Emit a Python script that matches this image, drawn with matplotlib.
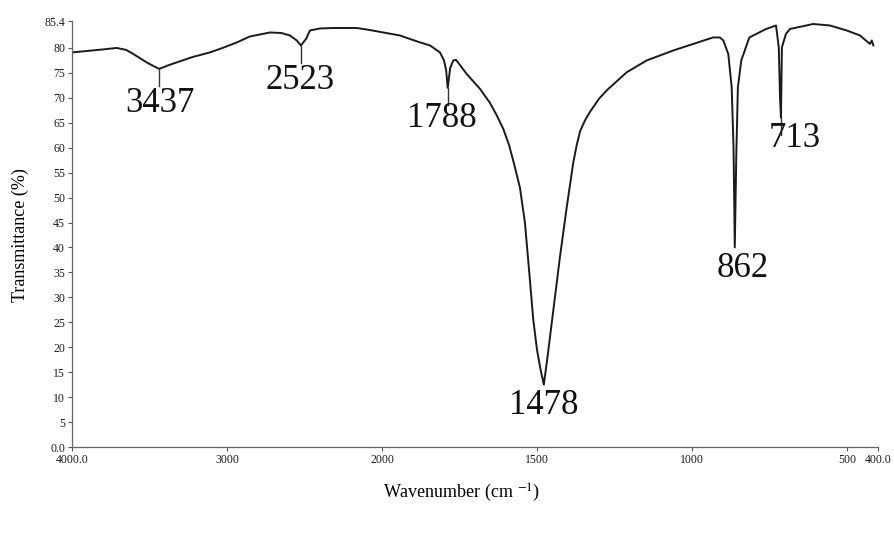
import numpy as np
import matplotlib
matplotlib.use("Agg")
import matplotlib.pyplot as plt

plt.rcParams['font.family'] = ['Liberation Serif', 'DejaVu Serif']
plt.rcParams['mathtext.fontset'] = 'stix'

wavenumber = [4000, 3900, 3800, 3712, 3650, 3605, 3518, 3470, 3437, 3380, 3325, 3220,
              3110, 3020, 2937, 2852, 2787, 2723, 2650, 2594, 2550, 2523, 2490, 2465,
              2400, 2314, 2163, 2080, 1996, 1942, 1910, 1877, 1845, 1813, 1800, 1793,
              1788, 1780, 1770, 1761, 1727, 1684, 1652, 1630, 1609, 1590, 1575, 1555,
              1539, 1525, 1512, 1500, 1490, 1478, 1466, 1458, 1442, 1426, 1404, 1383,
              1372, 1361, 1345, 1329, 1300, 1275, 1211, 1146, 1060, 996, 932, 910, 899,
              883, 872, 866, 862, 857, 852, 841, 815, 761, 729, 720, 716, 713, 710, 697,
              684, 609, 555, 501, 458, 426, 420, 415]
transmittance = [79.1, 79.4, 79.7, 80.0, 79.6, 78.8, 77.1, 76.3, 75.8, 76.5, 77.1, 78.2,
                 79.1, 80.1, 81.1, 82.3, 82.7, 83.1, 83.0, 82.5, 81.5, 80.5, 81.8, 83.5,
                 83.9, 84.0, 84.0, 83.6, 83.1, 82.5, 81.8, 81.1, 80.5, 79.1, 77.5, 75.5,
                 72.0, 76.0, 77.5, 77.6, 74.8, 71.8, 69.0, 66.5, 63.8, 60.5, 57.0, 52.0,
                 45.0, 35.0, 25.5, 19.5, 16.0, 12.5, 18.1, 22.1, 30.1, 38.1, 48.1, 57.0,
                 60.5, 63.3, 65.5, 67.2, 69.8, 71.5, 75.1, 77.5, 79.5, 80.8, 82.1, 82.1,
                 81.5, 78.8, 72.1, 60.0, 40.0, 58.8, 72.1, 77.5, 82.1, 83.8, 84.5, 80.1,
                 70.0, 66.0, 80.1, 82.8, 83.8, 84.8, 84.5, 83.5, 82.5, 80.8, 81.5, 80.5]

peak_labels = ["3437", "2523", "1788", "1478", "862", "713"]
peak_wn = [3437, 2523, 1788, 1478, 862, 713]
peak_T = [75.8, 80.5, 72.0, 12.5, 40.0, 66.0]
label_x = [3432, 2529, 1808, 1477, 837, 668]
label_y = [68.9, 73.5, 65.9, 8.4, 35.8, 61.9]

xticks = [4000, 3000, 2000, 1500, 1000, 500, 400]
xticklabels = ["4000.0", "3000", "2000", "1500", "1000", "500", "400.0"]
yticks = [0, 5, 10, 15, 20, 25, 30, 35, 40, 45, 50, 55, 60, 65, 70, 75, 80, 85.4]
yticklabels = ["0.0", "5", "10", "15", "20", "25", "30", "35", "40", "45", "50", "55",
               "60", "65", "70", "75", "80", "85.4"]


def fwd(x):
    x = np.asarray(x, dtype=float)
    return np.where(x > 2000, 2000 + (x - 2000) / 2.0, x)


def inv(t):
    t = np.asarray(t, dtype=float)
    return np.where(t > 2000, 2000 + (t - 2000) * 2.0, t)


fig = plt.figure(figsize=(8.94, 5.34), dpi=100)
ax = fig.add_axes([72 / 894, 87 / 534, (878 - 72) / 894, (447 - 21) / 534])
ax.set_xscale('function', functions=(fwd, inv))
ax.plot(wavenumber, transmittance, color='#1a1a1a', lw=1.4)

for w, t in zip(peak_wn, peak_T):
    if w not in (1478, 862):
        ax.plot([w, w], [t, t - 3.5], color='#333333', lw=1.0)

for lab, lx, ly in zip(peak_labels, label_x, label_y):
    ax.text(lx, ly, lab, fontsize=25, ha='center', va='center', color='#111111')

ax.set_xlim(4000, 400)
ax.set_ylim(0, 85.4)
ax.set_xticks(xticks)
ax.set_xticklabels(xticklabels)
ax.set_yticks(yticks)
ax.set_yticklabels(yticklabels)
ax.minorticks_off()
ax.tick_params(axis='both', labelsize=8.5, length=3, width=0.8, colors='#555555',
               labelcolor='#1a1a1a', direction='out', pad=2)
for s in ['top', 'right']:
    ax.spines[s].set_visible(False)
for s in ['left', 'bottom']:
    ax.spines[s].set_color('#666666')
    ax.spines[s].set_linewidth(0.9)

fig.text(20 / 894, 1 - 235 / 534, "Transmittance (%)", rotation=90, fontsize=13,
         ha='center', va='center')
fig.text(462 / 894, 1 - 493 / 534, "Wavenumber (cm $^{-1}$)", fontsize=13,
         ha='center', va='center')

fig.savefig("out.png", dpi=100)
